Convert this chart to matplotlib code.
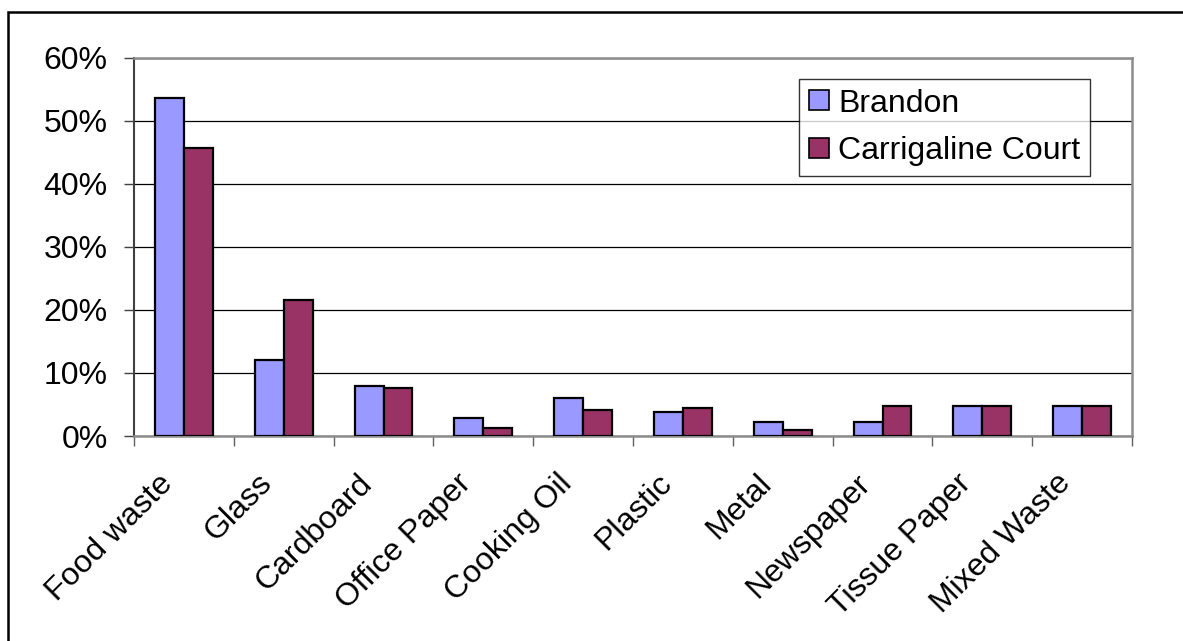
import matplotlib
matplotlib.use("Agg")
import matplotlib.pyplot as plt
import numpy as np
from matplotlib.patches import Rectangle
from matplotlib.ticker import FuncFormatter, FixedLocator
from matplotlib.transforms import ScaledTranslation

plt.rcParams['font.family'] = ['Liberation Sans', 'DejaVu Sans']

categories = ["Food waste", "Glass", "Cardboard", "Office Paper", "Cooking Oil",
              "Plastic", "Metal", "Newspaper", "Tissue Paper", "Mixed Waste"]
brandon = [53.6, 12.1, 7.9, 2.9, 6.0, 3.8, 2.2, 2.2, 4.8, 4.8]
carrigaline = [45.7, 21.6, 7.6, 1.2, 4.1, 4.4, 1.0, 4.8, 4.8, 4.8]
series_names = ["Brandon", "Carrigaline Court"]
yticks = [0, 10, 20, 30, 40, 50, 60]

FS = 23
W, H = 1183, 641
fig = plt.figure(figsize=(W / 100, H / 100), dpi=100)
ax = fig.add_axes([134 / W, 1 - 436 / H, (1132 - 134) / W, (436 - 57.5) / H])

x = np.arange(len(categories))
bw = 0.29
ax.bar(x - bw / 2, brandon, bw, color="#9999FF", edgecolor="black",
       linewidth=1.6, label=series_names[0], zorder=3)
ax.bar(x + bw / 2, carrigaline, bw, color="#993366", edgecolor="black",
       linewidth=1.6, label=series_names[1], zorder=3)

ax.set_xlim(-0.5, len(categories) - 0.5)
ax.set_ylim(0, 60)
ax.set_yticks(yticks)
ax.yaxis.set_major_formatter(FuncFormatter(lambda v, p: f"{v:.0f}%"))
ax.grid(axis="y", color="black", linewidth=0.9, zorder=0)
ax.set_axisbelow(True)

# category boundaries carry the tick marks
ax.xaxis.set_major_locator(FixedLocator(np.arange(len(categories) + 1) - 0.5))
ax.set_xticklabels([])
ax.tick_params(axis="x", direction="out", length=7, width=1.0, color="#606060")
ax.tick_params(axis="y", direction="out", length=7, width=1.0, color="#404040",
               labelsize=FS, pad=12)

for side in ("top", "right", "bottom"):
    ax.spines[side].set_color("#8c8c8c")
    ax.spines[side].set_linewidth(1.8)
ax.spines["left"].set_color("#404040")
ax.spines["left"].set_linewidth(1.5)

# rotated category labels below the axis
offset = ScaledTranslation(-16 / 100, -43 / 100, fig.dpi_scale_trans)
for xi, name in zip(x, categories):
    ax.text(xi, 0, name, transform=ax.get_xaxis_transform() + offset,
            rotation=45, rotation_mode="anchor", ha="right", va="center",
            fontsize=FS)

leg = ax.legend(loc="upper right", bbox_to_anchor=(1090 / W, 1 - 79 / H),
                bbox_transform=fig.transFigure, borderaxespad=0,
                fontsize=FS, frameon=True, fancybox=False, shadow=False,
                handlelength=0.62, handleheight=0.58, handletextpad=0.3,
                labelspacing=0.55, borderpad=0.3)
leg.get_frame().set_edgecolor("black")
leg.get_frame().set_linewidth(1.0)
for h in leg.legend_handles:
    h.set_linewidth(1.2)

# chart border
fig.patches.append(Rectangle((7.5 / W, -0.2), 1.3, 1.2 - 12 / H,
                             transform=fig.transFigure, fill=False,
                             edgecolor="black", linewidth=1.8))

fig.savefig("out.png", dpi=100)
